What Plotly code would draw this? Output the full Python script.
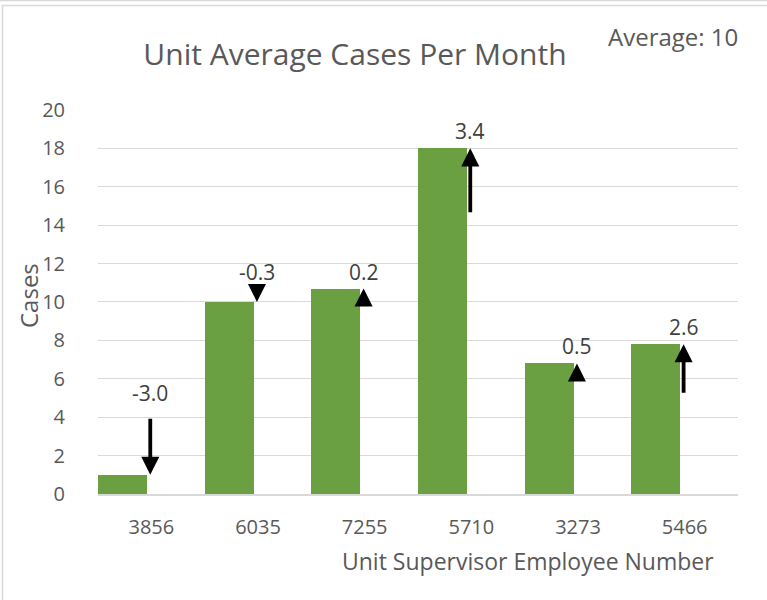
import plotly.graph_objects as go

categories = ["3856", "6035", "7255", "5710", "3273", "5466"]
cases = [1.0, 10.0, 10.7, 18.0, 6.8, 7.8]
changes = [-3.0, -0.3, 0.2, 3.4, 0.5, 2.6]
average_label = "Average: 10"

W, H = 767, 600
L, R, T, B = 98, 29, 109, 106

fig = go.Figure()
fig.add_trace(go.Bar(
    x=categories, y=cases,
    width=0.46, offset=-0.5,
    marker=dict(color="#6aa042", line=dict(width=0)),
    hoverinfo="skip", showlegend=False,
))

grey = "#595959"
font = "Open Sans"
AW = 3.8  # arrow line width
HEAD = 15  # pixel length of the head-only arrow

for i, (val, ch) in enumerate(zip(cases, changes)):
    start = val - ch
    xi = i - 0.01
    direction = 1 if ch > 0 else -1
    # shaft (no head), ends short of the tip
    fig.add_annotation(
        x=xi, y=val, ax=xi, ay=start, xref="x", yref="y", axref="x", ayref="y",
        showarrow=True, arrowhead=0, arrowwidth=AW, arrowcolor="black",
        standoff=8, startstandoff=0, text="",
    )
    # head, drawn as a short pixel-length arrow ending at the tip
    fig.add_annotation(
        x=xi, y=val, xref="x", yref="y", ax=0, ay=direction * HEAD,
        showarrow=True, arrowhead=2, arrowsize=0.95, arrowwidth=AW,
        arrowcolor="black", standoff=0, text="",
    )
    top = max(val, start)
    fig.add_annotation(
        x=xi, y=top, xref="x", yref="y", text=f"{ch:.1f}", showarrow=False,
        yanchor="bottom", yshift=1 if ch > 0 else 8,
        font=dict(family=font, size=21, color="#404040"),
    )

pw, ph = W - L - R, H - T - B

fig.add_annotation(text="Unit Supervisor Employee Number", xref="paper", yref="paper",
                   x=(716 - L) / pw, y=-(561 - (H - B)) / ph,
                   xanchor="right", yanchor="middle", showarrow=False,
                   font=dict(family=font, size=23, color=grey))
fig.add_annotation(text=average_label, xref="paper", yref="paper",
                   x=(740 - L) / pw, y=1 + (T - 37) / ph,
                   xanchor="right", yanchor="middle", showarrow=False,
                   font=dict(family=font, size=24, color=grey))
fig.add_annotation(text="Cases", xref="paper", yref="paper",
                   x=(28 - L) / pw, y=(H - B - 296) / ph, textangle=-90,
                   xanchor="center", yanchor="middle", showarrow=False,
                   font=dict(family=font, size=24, color=grey))

# chart border
fig.add_shape(type="rect", xref="paper", yref="paper", layer="below",
              x0=(2.5 - L) / pw, x1=(W + 5 - L) / pw,
              y0=-(H + 5 - T - ph) / ph, y1=1 + (T - 5.5) / ph,
              line=dict(color="#d9d9d9", width=1.5), fillcolor="white")
fig.add_shape(type="line", xref="paper", yref="paper",
              x0=-L / pw, x1=(W - L) / pw, y0=1 + (T - 0.5) / ph, y1=1 + (T - 0.5) / ph,
              line=dict(color="#d9d9d9", width=1.5))

fig.update_layout(
    width=W, height=H,
    margin=dict(l=L, r=R, t=T, b=B),
    paper_bgcolor="white", plot_bgcolor="rgba(0,0,0,0)",
    title=dict(text="Unit Average Cases Per Month", x=355 / W, xanchor="center",
               y=1 - 54 / H, yanchor="middle",
               font=dict(family=font, size=30, color=grey)),
    xaxis=dict(type="category", range=[-0.5, 5.5], autorange=False,
               showgrid=False, showline=True, linecolor="#d9d9d9",
               linewidth=1.5, ticks="", tickfont=dict(family=font, size=20, color=grey),
               ticklabelstandoff=14),
    yaxis=dict(range=[0, 20.05], autorange=False, dtick=2, showgrid=True,
               gridcolor="#d9d9d9", gridwidth=1.2,
               zeroline=False, showline=False, ticks="",
               tickfont=dict(family=font, size=20, color=grey), ticklabelstandoff=32),
    bargap=0,
)

fig.write_html("out.html", config={"displayModeBar": False},
               post_script="document.body.style.margin='0';")
